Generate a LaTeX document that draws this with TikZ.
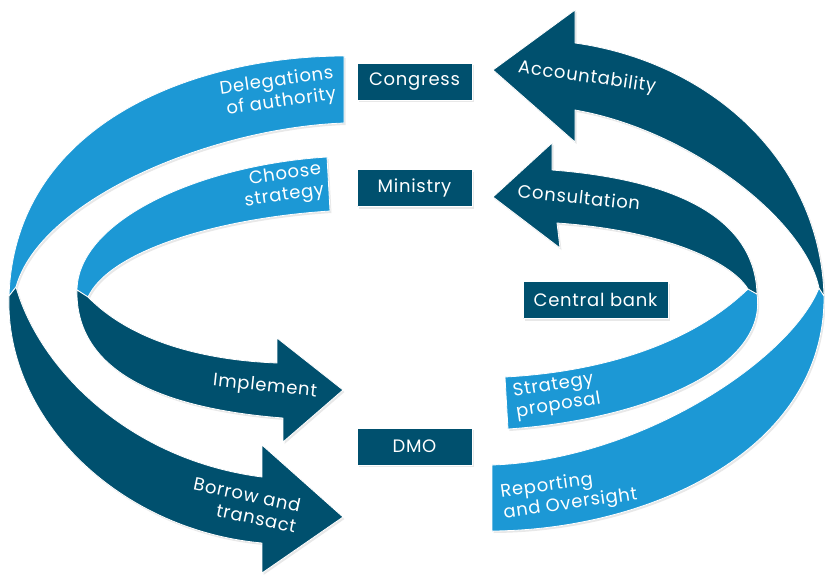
\documentclass[tikz,border=0pt]{standalone}
\usepackage{fontspec}
\setmainfont{Poppins}[LetterSpace=4]
\usepackage{xcolor}
\usetikzlibrary{shadows}

\definecolor{bandDark}{RGB}{0,80,110}
\definecolor{bandLight}{RGB}{28,152,213}

\begin{document}
\begin{tikzpicture}[x=1pt,y=-1pt,
    band/.style={draw=white, line width=0.8pt, line join=round,
        drop shadow={shadow xshift=1.5pt, shadow yshift=-2pt, opacity=0.18}},
    actor/.style={band, fill=bandDark, text=white, inner sep=0pt,
        minimum width=115pt, minimum height=37pt, font=\fontsize{18}{21}\selectfont},
    flow/.style={text=white, inner sep=0pt, font=\fontsize{18}{21}\selectfont}]
\useasboundingbox (0,0) rectangle (825,574);

% outer loop
\path[band, fill=bandLight] (344,56) -- (344,123) .. controls (210,128) and (40,200) .. (16,287)
    -- (9,296) .. controls (15,120) and (200,56) .. (344,56) -- cycle;
\path[band, fill=bandDark] (16,287) .. controls (40,370) and (130,460) .. (262,477)
    -- (262,445) -- (343,517) -- (262,573) -- (262,543)
    .. controls (120,530) and (5,420) .. (9,296) -- cycle;
\path[band, fill=bandLight] (492,465) .. controls (640,460) and (790,360) .. (819,288)
    -- (824,296) .. controls (825,450) and (650,530) .. (492,531) -- cycle;
\path[band, fill=bandDark] (819,288) .. controls (805,220) and (690,130) .. (575,110)
    -- (575,142) -- (493,70) -- (575,10) -- (575,43)
    .. controls (710,62) and (820,160) .. (824,296) -- cycle;

% inner loop
\path[band, fill=bandLight] (327,157) -- (330,211) .. controls (220,218) and (110,250) .. (88,297)
    -- (77,290) .. controls (78,220) and (200,165) .. (327,157) -- cycle;
\path[band, fill=bandDark] (77,290) .. controls (75,380) and (180,410) .. (283,418)
    -- (283,442) -- (343,390) -- (277,338) -- (277,363)
    .. controls (200,360) and (130,340) .. (88,297) -- cycle;
\path[band, fill=bandLight] (748,289) .. controls (690,345) and (600,372) .. (505,377)
    -- (508,429) .. controls (640,420) and (768,370) .. (757,294) -- cycle;
\path[band, fill=bandDark] (557,223) -- (560,248) -- (493,197) -- (552,143) -- (552,170)
    .. controls (680,180) and (755,220) .. (757,294)
    -- (748,289) .. controls (730,260) and (660,230) .. (557,223) -- cycle;

% actors
\node[actor] (congress) at (414.5,81.5) {Congress};
\node[actor] (ministry) at (414.5,188) {Ministry};
\node[actor, minimum width=145pt] (centralbank) at (595.5,300) {Central bank};
\node[actor] (dmo) at (414.5,446.5) {DMO};

% flows
\node[flow, align=right, rotate=8] (delegations) at (278,92) {Delegations\\of authority};
\node[flow, align=right, rotate=8] (choose) at (283,186) {Choose\\strategy};
\node[flow, rotate=-8] (accountability) at (587,78) {Accountability};
\node[flow, rotate=-6] (consultation) at (579,197) {Consultation};
\node[flow, rotate=-6] (implement) at (265,387) {Implement};
\node[flow, align=right, rotate=-12] (borrow) at (245,505) {Borrow and\\transact};
\node[flow, align=left, rotate=9] (proposal) at (557,396) {Strategy\\proposal};
\node[flow, align=left, rotate=8] (reporting) at (569,494) {Reporting\\and Oversight};
\end{tikzpicture}
\end{document}
